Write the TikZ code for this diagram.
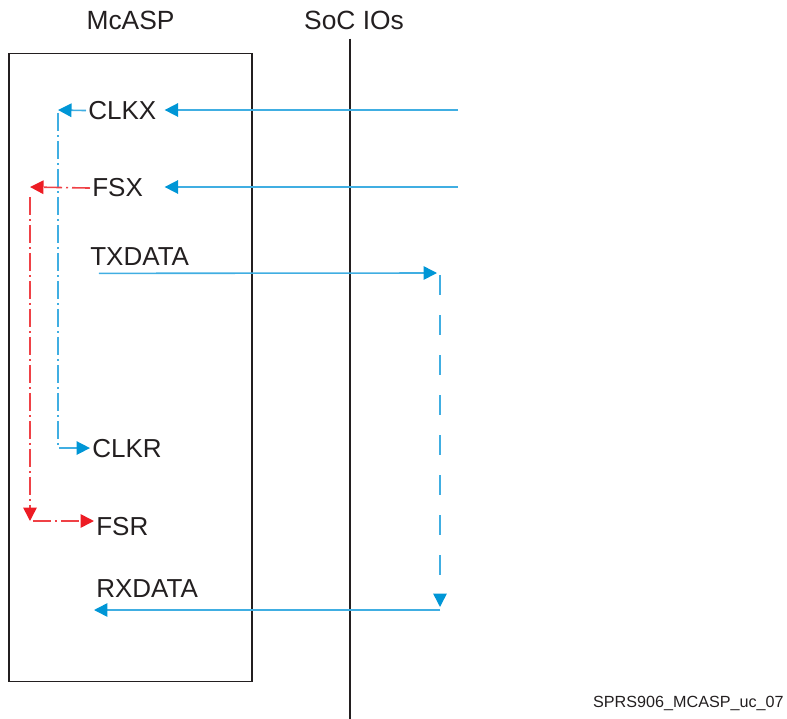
\documentclass[tikz,border=0pt]{standalone}
\usepackage{fontspec}
\setmainfont{Liberation Sans}
\usepackage{tikz}
\usetikzlibrary{arrows.meta, positioning}
\definecolor{tiblue}{RGB}{64, 174, 226}
\definecolor{tibluetip}{RGB}{0, 150, 214}
\definecolor{tired}{RGB}{239, 65, 70}
\definecolor{tiredtip}{RGB}{237, 28, 36}
\definecolor{inkgray}{RGB}{35, 31, 32}

\begin{document}
\begin{tikzpicture}[
  x=0.02cm, y=-0.02cm,
  sigpin/.style={font=\fontsize{14.8}{17}\selectfont, text=inkgray,
                 inner xsep=0.04cm, inner ysep=0pt, anchor=base west},
  heading/.style={font=\fontsize{15}{18}\selectfont, text=inkgray, inner sep=0pt},
  bluewire/.style={draw=tiblue, line width=0.9pt,
                   -{Triangle[length=0.27cm, width=0.27cm, color=tibluetip]}},
  bluedashdot/.style={bluewire, dash pattern=on 0.36cm off 0.08cm on 0.04cm off 0.08cm},
  bluedashed/.style={bluewire, dash pattern=on 0.4cm off 0.4cm},
  reddashdot/.style={draw=tired, line width=0.9pt,
                     dash pattern=on 0.36cm off 0.08cm on 0.04cm off 0.08cm,
                     -{Triangle[length=0.27cm, width=0.27cm, color=tiredtip]}}
]
  \useasboundingbox (0,0) rectangle (787,719);

  \node[draw=inkgray, line width=0.6pt, minimum width=4.86cm,
        minimum height=12.58cm, inner sep=0pt] (mcasp) at (130.5,367.5) {};
  \node[heading, above=0.44cm of mcasp] (mcasptitle) {McASP};
  \node[heading, anchor=base] (soctitle) at (354,30) {SoC IOs};
  \coordinate (socbottom) at (350,719);
  \draw[inkgray, line width=1pt] ([yshift=-0.16cm]soctitle.south -| socbottom) -- (socbottom);

  \node[sigpin] (clkx) at (86,119.5) {CLKX};
  \node[sigpin] (fsx) at (90,197) {FSX};
  \node[sigpin] (txdata) at (88,266) {TXDATA};
  \node[sigpin] (clkr) at (90,457) {CLKR};
  \node[sigpin] (fsr) at (94,535.5) {FSR};
  \node[sigpin] (rxdata) at (94,597) {RXDATA};
  \node[font=\fontsize{9.2}{11}\selectfont, text=inkgray, inner sep=0pt,
        anchor=base east] (figid) at (784,707) {SPRS906\_MCASP\_uc\_07};

  \coordinate (clkxio) at (458,110);
  \coordinate (fsxio) at (458,187);
  \coordinate (clkxturn) at (58,110);
  \coordinate (fsxturn) at (30,187);
  \coordinate (fsrturn) at (30,521);
  \coordinate (txturn) at (440,273);
  \coordinate (rxturn) at (440,610);

  \draw[bluewire, shorten >=0.12cm] (clkxio) -- (clkxio -| clkx.east);
  \draw[bluewire, shorten >=0.12cm] (fsxio) -- (fsxio -| clkx.east);

  \draw[bluedashdot] (clkx.west) -- (clkxturn);
  \draw[bluedashdot, shorten <=0.06cm] (clkxturn) |- (clkr.west);

  \draw[reddashdot] (fsx.west) -- (fsxturn);
  \draw[reddashdot, shorten <=0.2cm] (fsxturn) -- (fsrturn);
  \draw[reddashdot, shorten <=0.06cm] (fsrturn) -- (fsrturn -| fsr.west);

  \draw[bluewire, shorten >=0.06cm] ([shift={(0.22cm,-0.14cm)}]txdata.south west) -- (txturn);
  \draw[bluedashed, shorten <=0.04cm, shorten >=0.06cm] (txturn) -- (rxturn);
  \draw[bluewire] (rxturn) -- (rxturn -| rxdata.west);
\end{tikzpicture}
\end{document}
